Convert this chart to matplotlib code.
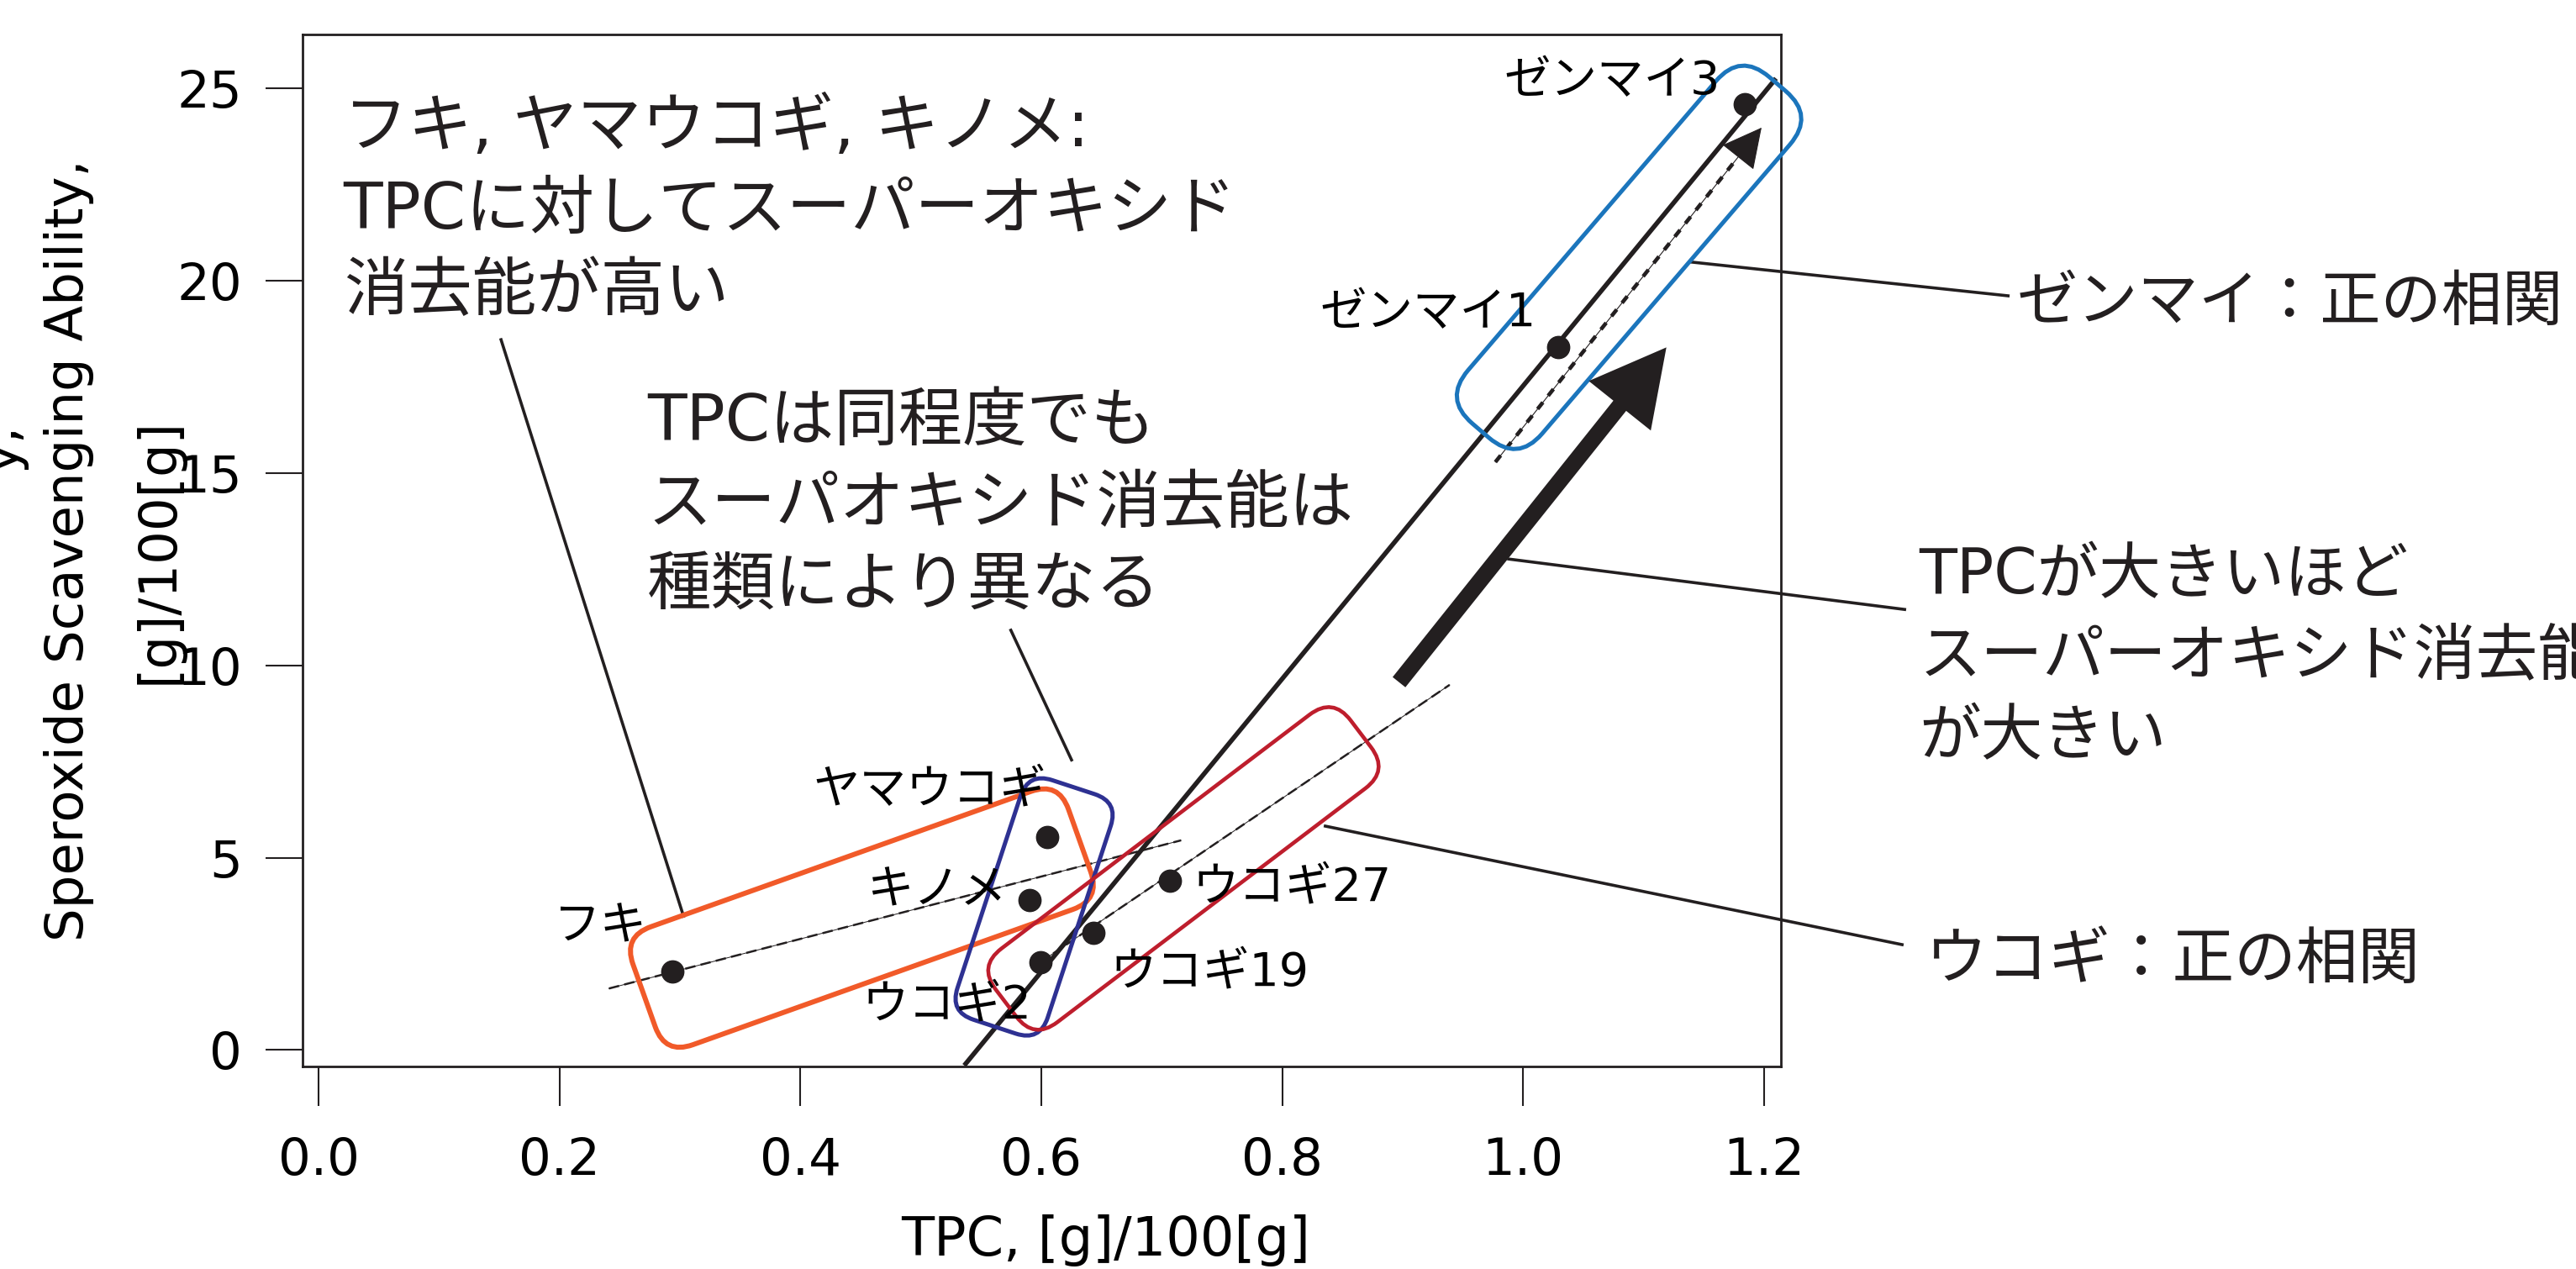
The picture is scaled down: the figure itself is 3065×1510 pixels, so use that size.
import matplotlib.pyplot as plt
import matplotlib.transforms as mtransforms
from matplotlib.patches import FancyBboxPatch, FancyArrowPatch

plt.rcParams['font.family'] = ['DejaVu Sans', 'Noto Sans CJK JP']

INK = '#231f20'

# samples: total polyphenol content vs. superoxide scavenging ability
names = ['フキ', 'キノメ', 'ヤマウコギ', 'ウコギ2', 'ウコギ19', 'ウコギ27', 'ゼンマイ1', 'ゼンマイ3']
tpc = [0.294, 0.590, 0.605, 0.599, 0.643, 0.707, 1.029, 1.184]
sod = [2.04, 3.90, 5.53, 2.28, 3.05, 4.40, 18.27, 24.58]

# guide lines, ([x0, x1], [y0, y1])
main_trend = ([0.536, 1.210], [-0.40, 25.25])
fuki_trend = ([0.241, 0.716], [1.60, 5.45])
ukogi_trend = ([0.599, 0.939], [2.28, 9.49])
zenmai_arrow = ([0.977, 1.198], [15.28, 23.97])
big_arrow = ([0.897, 1.119], [9.56, 18.26])

xticks = [0.0, 0.2, 0.4, 0.6, 0.8, 1.0, 1.2]
xticklabels = ['0.0', '0.2', '0.4', '0.6', '0.8', '1.0', '1.2']
yticks = [0, 5, 10, 15, 20, 25]

# where each point name goes: (x, y, ha)
label_pos = {
    'フキ': (0.273, 2.87, 'right'),
    'キノメ': (0.571, 3.79, 'right'),
    'ヤマウコギ': (0.604, 6.43, 'right'),
    'ウコギ2': (0.592, 0.84, 'right'),
    'ウコギ19': (0.657, 1.69, 'left'),
    'ウコギ27': (0.725, 3.88, 'left'),
    'ゼンマイ1': (1.011, 18.81, 'right'),
    'ゼンマイ3': (1.164, 24.84, 'right'),
}

# group outlines: centre (data), length/width/radius in px, angle in deg
boxes = [
    (0.451, 3.43, 550, 149, 19.6, 35, '#f15a29', 4.3),
    (0.594, 3.72, 300, 113, 71.8, 30, '#2e3192', 3.6),
    (0.718, 4.72, 530, 110, 37.2, 35, '#be1e2d', 3.3),
    (1.088, 20.60, 543, 116, 49.4, 45, '#1b75bc', 3.6),
]

# callout leader lines
leaders = [
    ([0.1514, 0.3029], [18.46, 3.48]),
    ([0.5747, 0.6251], [10.91, 7.54]),
    ([1.1389, 1.4027], [20.48, 19.60]),
    ([0.9881, 1.3168], [12.76, 11.45]),
    ([0.8358, 1.3147], [5.82, 2.74]),
]

fig = plt.figure(figsize=(30.65, 15.10), dpi=100)
ax = fig.add_axes([0.1175, 0.1596, 0.5739, 0.8132])
ax.set_xlim(-0.0133, 1.2142)
ax.set_ylim(-0.426, 26.39)

# trend lines
ax.plot(*main_trend, color=INK, lw=4.0, solid_capstyle='butt', zorder=2)
for tx, ty in (fuki_trend, ukogi_trend):
    ax.plot(tx, ty, color=INK, lw=0.7, zorder=2)
    ax.plot(tx, ty, color=INK, lw=1.8, dashes=(5, 2.5), zorder=2)

# dashed arrow along the ゼンマイ points
zx, zy = zenmai_arrow
ax.plot([zx[0], zx[0] + 0.9 * (zx[1] - zx[0])], [zy[0], zy[0] + 0.9 * (zy[1] - zy[0])],
        color=INK, lw=3.3, dashes=(2.2, 2.2), zorder=2)
ax.add_patch(FancyArrowPatch((zx[0], zy[0]), (zx[1], zy[1]),
                             arrowstyle='-|>,head_length=31,head_width=16', mutation_scale=1,
                             color=INK, lw=0.8, shrinkA=0, shrinkB=0, zorder=2))

# big arrow: larger TPC -> larger scavenging
bx, by = big_arrow
ax.add_patch(FancyArrowPatch((bx[0], by[0]), (bx[1], by[1]),
                             arrowstyle='simple,head_length=64,head_width=68,tail_width=14',
                             mutation_scale=1, color=INK, lw=0, shrinkA=0, shrinkB=0, zorder=4))

# rounded outlines around each group
for cx, cy, length, width, ang, rad, col, lw in boxes:
    tr = mtransforms.Affine2D().rotate_deg(ang) + mtransforms.ScaledTranslation(cx, cy, ax.transData)
    ax.add_patch(FancyBboxPatch((-length / 2, -width / 2), length, width,
                                boxstyle=f'round,pad=0,rounding_size={rad}',
                                fill=False, edgecolor=col, lw=lw, transform=tr,
                                clip_on=False, zorder=3))

ax.plot(tpc, sod, 'o', color=INK, ms=19, zorder=5)
for n in names:
    lx, ly, ha = label_pos[n]
    ax.text(lx, ly, n, fontsize=40, ha=ha, va='baseline', zorder=6)

for lx, ly in leaders:
    ax.plot(lx, ly, color=INK, lw=2.6, clip_on=False, zorder=2)

ax.text(0.0206, 24.75, 'フキ, ヤマウコギ, キノメ:\nTPCに対してスーパーオキシド\n消去能が高い',
        fontsize=55, va='top', ha='left', linespacing=1.4, color=INK)
ax.text(0.2729, 17.10, 'TPCは同程度でも\nスーパオキシド消去能は\n種類により異なる',
        fontsize=55, va='top', ha='left', linespacing=1.4, color=INK)
ax.text(1.4096, 18.96, 'ゼンマイ：正の相関（強い）', fontsize=52, va='baseline', ha='left',
        color=INK, clip_on=False)
ax.text(1.3287, 13.11, 'TPCが大きいほど\nスーパーオキシド消去能\nが大きい', fontsize=53,
        va='top', ha='left', linespacing=1.4, color=INK, clip_on=False)
ax.text(1.3343, 1.87, 'ウコギ：正の相関', fontsize=53, va='baseline', ha='left',
        color=INK, clip_on=False)

ax.set_xticks(xticks)
ax.set_xticklabels(xticklabels)
ax.set_yticks(yticks)
ax.tick_params(axis='x', length=34, width=1.5, pad=26, labelsize=44, color=INK)
ax.tick_params(axis='y', length=32, width=1.5, pad=20, labelsize=44, color=INK)
for sp in ax.spines.values():
    sp.set_linewidth(2)
    sp.set_color(INK)

ax.set_xlabel('TPC, [g]/100[g]', fontsize=46)
ax.xaxis.set_label_coords(0.543, -0.1433)
ax.set_ylabel('Speroxide Scavenging Ability,\n[g]/100[g]', fontsize=45, linespacing=2.0)
ax.yaxis.set_label_coords(-0.0802, 0.5)

# tail of a neighbouring label cut by the left edge
fig.text(20 / 3065, 1 - 505 / 1510, 'y,', rotation=90, rotation_mode='anchor',
         ha='right', va='baseline', fontsize=45)

fig.savefig('out.png', dpi=100)
